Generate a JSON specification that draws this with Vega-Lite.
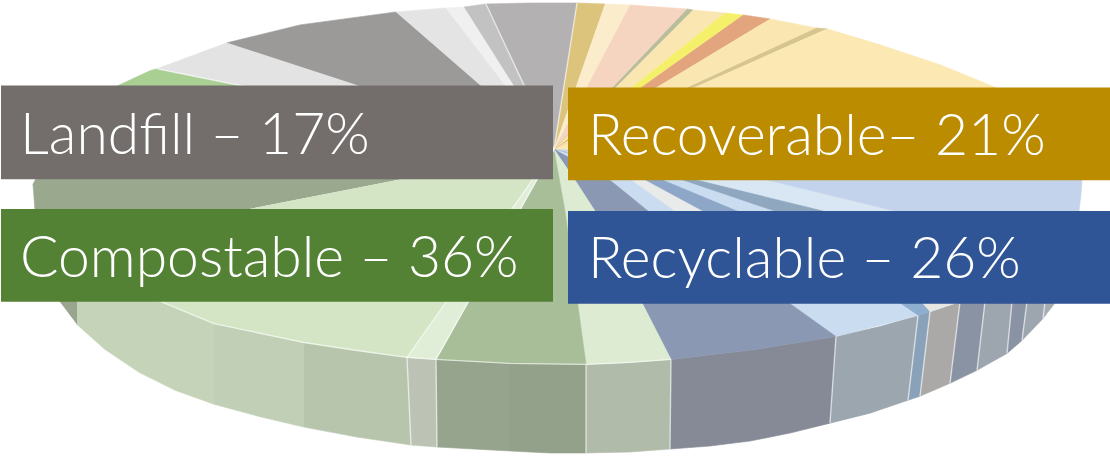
{"$schema":"https://vega.github.io/schema/vega-lite/v6.json","width":1110,"height":456,"padding":0,"autosize":{"type":"fit","contains":"padding"},"background":"#ffffff","view":{"stroke":null},
"datasets":{
"slices":[
{"s":"sa","i":0,"x":50,"y":290},{"s":"sa","i":1,"x":77,"y":295},{"s":"sa","i":2,"x":77,"y":326},
{"s":"sb","i":0,"x":77,"y":295},{"s":"sb","i":1,"x":161,"y":303},{"s":"sb","i":2,"x":214,"y":325},{"s":"sb","i":3,"x":214,"y":406},{"s":"sb","i":4,"x":175,"y":392},{"s":"sb","i":5,"x":139,"y":374},{"s":"sb","i":6,"x":105,"y":351},{"s":"sb","i":7,"x":77,"y":326},
{"s":"sc","i":0,"x":214,"y":325},{"s":"sc","i":1,"x":304,"y":344},{"s":"sc","i":2,"x":304,"y":429},{"s":"sc","i":3,"x":258,"y":418},{"s":"sc","i":4,"x":214,"y":406},
{"s":"sd","i":0,"x":304,"y":344},{"s":"sd","i":1,"x":357,"y":352},{"s":"sd","i":2,"x":407,"y":359},{"s":"sd","i":3,"x":411,"y":447},{"s":"sd","i":4,"x":357,"y":439},{"s":"sd","i":5,"x":304,"y":429},
{"s":"se","i":0,"x":407,"y":359},{"s":"se","i":1,"x":436,"y":361},{"s":"se","i":2,"x":437,"y":449},{"s":"se","i":3,"x":411,"y":447},
{"s":"sf","i":0,"x":436,"y":361},{"s":"sf","i":1,"x":510,"y":365},{"s":"sf","i":2,"x":510,"y":453},{"s":"sf","i":3,"x":437,"y":449},
{"s":"sg","i":0,"x":510,"y":365},{"s":"sg","i":1,"x":586,"y":366},{"s":"sg","i":2,"x":586,"y":455},{"s":"sg","i":3,"x":550,"y":455},{"s":"sg","i":4,"x":510,"y":453},
{"s":"sh","i":0,"x":586,"y":366},{"s":"sh","i":1,"x":630,"y":364},{"s":"sh","i":2,"x":671,"y":361},{"s":"sh","i":3,"x":670,"y":451},{"s":"sh","i":4,"x":630,"y":454},{"s":"sh","i":5,"x":586,"y":455},
{"s":"si","i":0,"x":671,"y":361},{"s":"si","i":1,"x":755,"y":351},{"s":"si","i":2,"x":836,"y":338},{"s":"si","i":3,"x":830,"y":425},{"s":"si","i":4,"x":790,"y":435},{"s":"si","i":5,"x":750,"y":443},{"s":"si","i":6,"x":710,"y":448},{"s":"si","i":7,"x":670,"y":451},
{"s":"sj","i":0,"x":836,"y":338},{"s":"sj","i":1,"x":880,"y":328},{"s":"sj","i":2,"x":918,"y":317},{"s":"sj","i":3,"x":908,"y":402},{"s":"sj","i":4,"x":870,"y":415},{"s":"sj","i":5,"x":830,"y":425},
{"s":"sk","i":0,"x":918,"y":317},{"s":"sk","i":1,"x":930,"y":313},{"s":"sk","i":2,"x":920,"y":398},{"s":"sk","i":3,"x":908,"y":402},
{"s":"sl","i":0,"x":930,"y":313},{"s":"sl","i":1,"x":960,"y":303},{"s":"sl","i":2,"x":950,"y":385},{"s":"sl","i":3,"x":920,"y":398},
{"s":"sm","i":0,"x":960,"y":303},{"s":"sm","i":1,"x":985,"y":303},{"s":"sm","i":2,"x":977,"y":372},{"s":"sm","i":3,"x":950,"y":385},
{"s":"sn","i":0,"x":985,"y":303},{"s":"sn","i":1,"x":1012,"y":303},{"s":"sn","i":2,"x":1007,"y":355},{"s":"sn","i":3,"x":977,"y":372},
{"s":"so","i":0,"x":1012,"y":303},{"s":"so","i":1,"x":1027,"y":303},{"s":"so","i":2,"x":1022,"y":342},{"s":"so","i":3,"x":1007,"y":355},
{"s":"sp","i":0,"x":1027,"y":303},{"s":"sp","i":1,"x":1045,"y":303},{"s":"sp","i":2,"x":1043,"y":320},{"s":"sp","i":3,"x":1022,"y":342},
{"s":"sq","i":0,"x":1045,"y":303},{"s":"sq","i":1,"x":1056,"y":303},{"s":"sq","i":2,"x":1043,"y":320},
{"s":"ta","i":0,"x":554,"y":150},{"s":"ta","i":1,"x":60,"y":130},{"s":"ta","i":2,"x":33,"y":185},{"s":"ta","i":3,"x":36,"y":225},{"s":"ta","i":4,"x":40,"y":251},
{"s":"tb","i":0,"x":554,"y":150},{"s":"tb","i":1,"x":157,"y":69},{"s":"tb","i":2,"x":150,"y":71},{"s":"tb","i":3,"x":118,"y":86},{"s":"tb","i":4,"x":60,"y":130},
{"s":"tc","i":0,"x":554,"y":150},{"s":"tc","i":1,"x":227,"y":43},{"s":"tc","i":2,"x":157,"y":69},
{"s":"td","i":0,"x":554,"y":150},{"s":"td","i":1,"x":396,"y":12},{"s":"td","i":2,"x":300,"y":25},{"s":"td","i":3,"x":227,"y":43},
{"s":"te","i":0,"x":554,"y":150},{"s":"te","i":1,"x":446,"y":8},{"s":"te","i":2,"x":396,"y":12},
{"s":"tf","i":0,"x":554,"y":150},{"s":"tf","i":1,"x":464,"y":7},{"s":"tf","i":2,"x":446,"y":8},
{"s":"tg","i":0,"x":554,"y":150},{"s":"tg","i":1,"x":486,"y":4},{"s":"tg","i":2,"x":464,"y":7},
{"s":"th","i":0,"x":554,"y":150},{"s":"th","i":1,"x":577,"y":3},{"s":"th","i":2,"x":530,"y":3},{"s":"th","i":3,"x":486,"y":4},
{"s":"ti","i":0,"x":554,"y":150},{"s":"ti","i":1,"x":605,"y":4},{"s":"ti","i":2,"x":577,"y":3},
{"s":"tj","i":0,"x":554,"y":150},{"s":"tj","i":1,"x":630,"y":5},{"s":"tj","i":2,"x":605,"y":4},
{"s":"tk","i":0,"x":554,"y":150},{"s":"tk","i":1,"x":687,"y":9},{"s":"tk","i":2,"x":630,"y":5},
{"s":"tl","i":0,"x":554,"y":150},{"s":"tl","i":1,"x":693,"y":10},{"s":"tl","i":2,"x":687,"y":9},
{"s":"tm","i":0,"x":554,"y":150},{"s":"tm","i":1,"x":725,"y":13},{"s":"tm","i":2,"x":693,"y":10},
{"s":"tn","i":0,"x":554,"y":150},{"s":"tn","i":1,"x":743,"y":15},{"s":"tn","i":2,"x":725,"y":13},
{"s":"to","i":0,"x":554,"y":150},{"s":"to","i":1,"x":770,"y":19},{"s":"to","i":2,"x":743,"y":15},
{"s":"tp","i":0,"x":554,"y":150},{"s":"tp","i":1,"x":816,"y":28},{"s":"tp","i":2,"x":770,"y":19},
{"s":"tq","i":0,"x":554,"y":150},{"s":"tq","i":1,"x":827,"y":29},{"s":"tq","i":2,"x":816,"y":28},
{"s":"tr","i":0,"x":554,"y":150},{"s":"tr","i":1,"x":1082,"y":181},{"s":"tr","i":2,"x":1075,"y":160},{"s":"tr","i":3,"x":1040,"y":120},{"s":"tr","i":4,"x":996,"y":88},{"s":"tr","i":5,"x":940,"y":65},{"s":"tr","i":6,"x":880,"y":45},{"s":"tr","i":7,"x":827,"y":29},
{"s":"ts","i":0,"x":554,"y":150},{"s":"ts","i":1,"x":1082,"y":181},{"s":"ts","i":2,"x":1081,"y":195},{"s":"ts","i":3,"x":1079,"y":212},{"s":"ts","i":4,"x":1060,"y":260},{"s":"ts","i":5,"x":1020,"y":290},{"s":"ts","i":6,"x":960,"y":303},{"s":"ts","i":7,"x":930,"y":313},{"s":"ts","i":8,"x":850,"y":300},
{"s":"tt","i":0,"x":554,"y":150},{"s":"tt","i":1,"x":766,"y":181},{"s":"tt","i":2,"x":893,"y":212},{"s":"tt","i":3,"x":950,"y":230},{"s":"tt","i":4,"x":850,"y":230},{"s":"tt","i":5,"x":823,"y":212},{"s":"tt","i":6,"x":697,"y":181},
{"s":"tu","i":0,"x":554,"y":150},{"s":"tu","i":1,"x":697,"y":181},{"s":"tu","i":2,"x":823,"y":212},{"s":"tu","i":3,"x":860,"y":222},{"s":"tu","i":4,"x":800,"y":222},{"s":"tu","i":5,"x":773,"y":212},{"s":"tu","i":6,"x":682,"y":181},
{"s":"tv","i":0,"x":554,"y":150},{"s":"tv","i":1,"x":682,"y":181},{"s":"tv","i":2,"x":773,"y":212},{"s":"tv","i":3,"x":800,"y":230},{"s":"tv","i":4,"x":890,"y":290},{"s":"tv","i":5,"x":918,"y":317},{"s":"tv","i":6,"x":836,"y":338},
{"s":"tw","i":0,"x":554,"y":150},{"s":"tw","i":1,"x":663,"y":181},{"s":"tw","i":2,"x":737,"y":212},{"s":"tw","i":3,"x":770,"y":230},{"s":"tw","i":4,"x":720,"y":230},{"s":"tw","i":5,"x":693,"y":212},{"s":"tw","i":6,"x":645,"y":181},
{"s":"tx","i":0,"x":554,"y":150},{"s":"tx","i":1,"x":645,"y":181},{"s":"tx","i":2,"x":702,"y":212},{"s":"tx","i":3,"x":730,"y":230},{"s":"tx","i":4,"x":700,"y":230},{"s":"tx","i":5,"x":675,"y":212},{"s":"tx","i":6,"x":632,"y":181},
{"s":"ty","i":0,"x":554,"y":150},{"s":"ty","i":1,"x":610,"y":181},{"s":"ty","i":2,"x":648,"y":212},{"s":"ty","i":3,"x":790,"y":305},{"s":"ty","i":4,"x":836,"y":338},{"s":"ty","i":5,"x":755,"y":351},{"s":"ty","i":6,"x":671,"y":361},{"s":"ty","i":7,"x":595,"y":212},{"s":"ty","i":8,"x":575,"y":181},
{"s":"tz","i":0,"x":918,"y":317},{"s":"tz","i":1,"x":930,"y":313},{"s":"tz","i":2,"x":921,"y":303},{"s":"tz","i":3,"x":898,"y":303},
{"s":"ua","i":0,"x":930,"y":313},{"s":"ua","i":1,"x":960,"y":303},{"s":"ua","i":2,"x":940,"y":290},{"s":"ua","i":3,"x":921,"y":303},
{"s":"ub","i":0,"x":554,"y":150},{"s":"ub","i":1,"x":575,"y":181},{"s":"ub","i":2,"x":595,"y":212},{"s":"ub","i":3,"x":671,"y":361},{"s":"ub","i":4,"x":630,"y":364},{"s":"ub","i":5,"x":586,"y":366},{"s":"ub","i":6,"x":565,"y":212},
{"s":"uc","i":0,"x":554,"y":150},{"s":"uc","i":1,"x":565,"y":212},{"s":"uc","i":2,"x":586,"y":366},{"s":"uc","i":3,"x":510,"y":365},{"s":"uc","i":4,"x":436,"y":361},
{"s":"ud","i":0,"x":554,"y":150},{"s":"ud","i":1,"x":436,"y":361},{"s":"ud","i":2,"x":407,"y":359},
{"s":"ue","i":0,"x":554,"y":150},{"s":"ue","i":1,"x":407,"y":359},{"s":"ue","i":2,"x":357,"y":352},{"s":"ue","i":3,"x":304,"y":344},{"s":"ue","i":4,"x":214,"y":325},{"s":"ue","i":5,"x":161,"y":303},{"s":"ue","i":6,"x":40,"y":251}
],
"seams":[
{"e":"a","i":0,"x":554,"y":150},{"e":"a","i":1,"x":157,"y":69},
{"e":"b","i":0,"x":554,"y":150},{"e":"b","i":1,"x":486,"y":4},
{"e":"c","i":0,"x":554,"y":150},{"e":"c","i":1,"x":577,"y":3},
{"e":"d","i":0,"x":554,"y":150},{"e":"d","i":1,"x":407,"y":359},
{"e":"f","i":0,"x":554,"y":150},{"e":"f","i":1,"x":436,"y":361},
{"e":"g","i":0,"x":161,"y":303},{"e":"g","i":1,"x":214,"y":325},{"e":"g","i":2,"x":304,"y":344},{"e":"g","i":3,"x":357,"y":352},{"e":"g","i":4,"x":407,"y":359},{"e":"g","i":5,"x":436,"y":361},{"e":"g","i":6,"x":510,"y":365},{"e":"g","i":7,"x":586,"y":366},{"e":"g","i":8,"x":630,"y":364},{"e":"g","i":9,"x":671,"y":361},
{"e":"h","i":0,"x":407,"y":359},{"e":"h","i":1,"x":411,"y":447},
{"e":"j","i":0,"x":436,"y":361},{"e":"j","i":1,"x":437,"y":449},
{"e":"k","i":0,"x":586,"y":366},{"e":"k","i":1,"x":586,"y":455},
{"e":"l","i":0,"x":671,"y":361},{"e":"l","i":1,"x":670,"y":451},
{"e":"m","i":0,"x":836,"y":338},{"e":"m","i":1,"x":830,"y":425},
{"e":"n","i":0,"x":918,"y":317},{"e":"n","i":1,"x":908,"y":402},
{"e":"o","i":0,"x":930,"y":313},{"e":"o","i":1,"x":920,"y":398},
{"e":"p","i":0,"x":960,"y":303},{"e":"p","i":1,"x":950,"y":385},
{"e":"q","i":0,"x":985,"y":303},{"e":"q","i":1,"x":977,"y":372},
{"e":"r","i":0,"x":1012,"y":303},{"e":"r","i":1,"x":1007,"y":355},
{"e":"s","i":0,"x":1027,"y":303},{"e":"s","i":1,"x":1022,"y":342},
{"e":"t","i":0,"x":1045,"y":303},{"e":"t","i":1,"x":1043,"y":320}
],
"labels":[
{"name":"Landfill – 17%","x":1,"x2":553,"y":86,"y2":180,"tx":20,"ty":155},
{"name":"Recoverable– 21%","x":568,"x2":1110,"y":88,"y2":181,"tx":588,"ty":156},
{"name":"Compostable – 36%","x":1,"x2":553,"y":210,"y2":303,"tx":20,"ty":278},
{"name":"Recyclable – 26%","x":568,"x2":1110,"y":212,"y2":305,"tx":588,"ty":279}
]},
"encoding":{},
"layer":[
{"data":{"name":"slices"},"mark":{"type":"line","strokeWidth":0.6,"strokeJoin":"round"},
"encoding":{
"x":{"field":"x","type":"quantitative","scale":{"domain":[0,1110],"nice":false,"zero":false},"axis":null},
"y":{"field":"y","type":"quantitative","scale":{"domain":[456,0],"nice":false,"zero":false},"axis":null},
"order":{"field":"i","type":"ordinal"},
"detail":{"field":"s"},
"fill":{"field":"s","type":"nominal","legend":null,"scale":{"domain":["sa","sb","sc","sd","se","sf","sg","sh","si","sj","sk","sl","sm","sn","so","sp","sq","ta","tb","tc","td","te","tf","tg","th","ti","tj","tk","tl","tm","tn","to","tp","tq","tr","ts","tt","tu","tv","tw","tx","ty","tz","ua","ub","uc","ud","ue"],"range":["#99a58f","#c5d4b9","#c0cfb5","#b8c5ad","#bcc3b4","#97a48d","#94a18a","#b1bbaa","#858a96","#9ba6af","#8aa2b9","#aaa9a7","#8a93a3","#9da5ae","#8a93a3","#9da5ae","#a5acb2","#9aa88e","#a9cf93","#e3e3e3","#9b9a98","#e4e4e4","#f0f0f0","#c2c2c2","#b3b1b2","#dcc47d","#fbeccb","#f6d5c0","#b9bd9c","#fae6b0","#f5f06a","#e2a57e","#fae6b0","#d6c58e","#fbe8b3","#c3d3eb","#d9e6f3","#8fa7bf","#c9dcf0","#8ea7c8","#e9eaea","#8b98b3","#8fafd0","#e8e6e3","#deebd3","#a7be98","#e0eed8","#d3e5c4"]}},
"stroke":{"field":"s","type":"nominal","legend":null,"scale":{"domain":["sa","sb","sc","sd","se","sf","sg","sh","si","sj","sk","sl","sm","sn","so","sp","sq","ta","tb","tc","td","te","tf","tg","th","ti","tj","tk","tl","tm","tn","to","tp","tq","tr","ts","tt","tu","tv","tw","tx","ty","tz","ua","ub","uc","ud","ue"],"range":["#99a58f","#c5d4b9","#c0cfb5","#b8c5ad","#bcc3b4","#97a48d","#94a18a","#b1bbaa","#858a96","#9ba6af","#8aa2b9","#aaa9a7","#8a93a3","#9da5ae","#8a93a3","#9da5ae","#a5acb2","#9aa88e","#a9cf93","#e3e3e3","#9b9a98","#e4e4e4","#f0f0f0","#c2c2c2","#b3b1b2","#dcc47d","#fbeccb","#f6d5c0","#b9bd9c","#fae6b0","#f5f06a","#e2a57e","#fae6b0","#d6c58e","#fbe8b3","#c3d3eb","#d9e6f3","#8fa7bf","#c9dcf0","#8ea7c8","#e9eaea","#8b98b3","#8fafd0","#e8e6e3","#deebd3","#a7be98","#e0eed8","#d3e5c4"]}}
}},
{"data":{"name":"seams"},"mark":{"type":"line","stroke":"#ffffff","strokeWidth":1.4,"opacity":0.6},
"encoding":{
"x":{"field":"x","type":"quantitative"},
"y":{"field":"y","type":"quantitative"},
"order":{"field":"i","type":"ordinal"},
"detail":{"field":"e"}
}},
{"data":{"name":"labels"},"mark":{"type":"rect"},
"encoding":{
"x":{"field":"x","type":"quantitative"},"x2":{"field":"x2"},
"y":{"field":"y","type":"quantitative"},"y2":{"field":"y2"},
"fill":{"field":"name","type":"nominal","legend":null,"scale":{"domain":["Landfill – 17%","Recoverable– 21%","Compostable – 36%","Recyclable – 26%"],"range":["#736e6c","#bb8b00","#548235","#2f5597"]}}
}},
{"data":{"name":"labels"},"mark":{"type":"text","align":"left","baseline":"alphabetic","font":"Lato","fontWeight":300,"fontSize":57,"fill":"#ffffff"},
"encoding":{
"x":{"field":"tx","type":"quantitative"},
"y":{"field":"ty","type":"quantitative"},
"text":{"field":"name"}
}}
],
"resolve":{"scale":{"fill":"independent","stroke":"independent"}}
}
